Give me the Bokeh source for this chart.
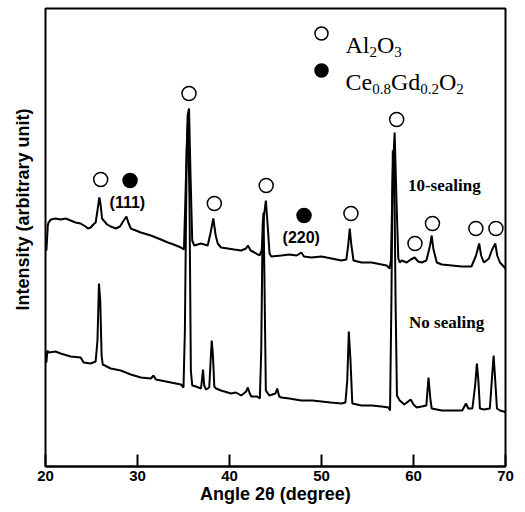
from bokeh.plotting import figure
from bokeh.models import Range1d, Title, FixedTicker
from bokeh.core.properties import value
from bokeh.embed import file_html
from bokeh.resources import INLINE

# ---- data (angle 2theta in degree, intensity in arbitrary units) ----
no_seal_angle = [20.1, 20.2, 20.33, 21.09, 21.64, 22.73, 23.82, 24.14, 24.91, 25.45, 25.65, 25.81, 25.95, 26.1,
                 26.22, 27.09, 28.18, 29.27, 30.36, 31.45, 31.74, 32.0, 32.54, 33.63, 34.72, 35.0, 35.15, 35.35,
                 35.5, 35.65, 35.8, 35.95, 36.36, 36.9, 37.0, 37.12, 37.25, 37.45, 37.8, 37.95, 38.07, 38.2, 38.35,
                 38.54, 39.08, 40.17, 40.7, 41.27, 41.81, 42.0, 42.2, 42.36, 43.0, 43.3, 43.45, 43.6, 43.7, 43.8,
                 43.95, 44.32, 45.0, 45.19, 45.4, 45.63, 46.5, 47.81, 49.0, 50.0, 51.0, 52.17, 52.6, 52.8, 52.97,
                 53.15, 53.35, 54.35, 55.44, 56.53, 57.3, 57.45, 57.6, 57.75, 57.9, 58.05, 58.2, 58.5, 59.0, 59.69,
                 60.0, 60.35, 60.89, 61.4, 61.63, 61.85, 61.98, 63.08, 64.17, 65.3, 65.7, 65.95, 66.4, 66.7, 66.89,
                 67.05, 67.22, 67.65, 68.3, 68.55, 68.71, 68.85, 69.07, 69.4, 69.8, 70.1]
no_seal_int = [104, 116, 114, 115, 113, 110, 109, 104, 103, 105, 126, 183, 166, 111,
               102, 98, 96, 92, 89, 88, 91, 87, 86, 84, 82, 79, 136, 316,
               348, 266, 96, 81, 80, 78, 86, 97, 81, 77, 79, 106, 126, 111, 80,
               78, 76, 73, 74, 71, 75, 79, 73, 70, 70, 68, 116, 241, 254, 186,
               76, 71, 73, 78, 70, 69, 68, 66, 66, 65, 64, 63, 64, 86, 135,
               106, 63, 61, 61, 60, 59, 56, 166, 316, 306, 166, 71, 66, 62, 67,
               62, 59, 60, 61, 89, 66, 58, 56, 56, 56, 63, 58, 58, 81, 103,
               86, 58, 57, 58, 91, 111, 91, 58, 56, 55, 54]

seal_angle = [20.1, 20.25, 20.33, 20.6, 21.09, 21.64, 22.2, 22.73, 23.27, 23.82, 24.36, 24.6, 24.91, 25.2,
              25.45, 25.65, 25.85, 26.0, 26.15, 26.33, 26.7, 27.09, 27.63, 28.1, 28.5, 28.8, 29.0, 29.27,
              30.36, 31.45, 32.54, 33.3, 33.63, 34.2, 34.72, 35.05, 35.2, 35.45, 35.6, 35.75, 35.95, 36.17,
              36.9, 37.63, 37.95, 38.24, 38.5, 38.72, 39.08, 39.81, 40.5, 41.27, 41.8, 42.0, 42.3, 42.72,
              43.26, 43.5, 43.75, 43.95, 44.15, 44.35, 44.54, 45.63, 46.5, 47.3, 47.81, 48.1, 48.9, 50.0,
              51.1, 52.17, 52.7, 52.9, 53.07, 53.25, 53.48, 54.35, 55.44, 56.53, 57.08, 57.4, 57.55, 57.75,
              57.95, 58.15, 58.35, 58.5, 58.71, 59.26, 59.7, 60.13, 60.5, 60.89, 61.4, 61.8, 61.98, 62.15,
              62.53, 63.08, 64.17, 65.26, 66.3, 66.8, 67.14, 67.35, 67.65, 68.2, 68.5, 68.89, 69.1, 69.4,
              69.7, 70.0]
seal_int = [216, 241, 244, 247, 248, 247, 248, 246, 244, 243, 240, 238, 239, 242,
            244, 256, 269, 261, 248, 246, 242, 240, 238, 240, 246, 250, 244, 238,
            234, 231, 227, 224, 223, 221, 219, 217, 266, 351, 358, 296, 226, 221,
            223, 221, 234, 248, 231, 223, 219, 218, 217, 216, 218, 221, 216, 214,
            211, 216, 251, 266, 241, 213, 210, 211, 212, 211, 214, 210, 209, 210,
            208, 206, 207, 221, 238, 221, 206, 204, 204, 202, 201, 198, 206, 296,
            334, 266, 208, 204, 206, 204, 207, 209, 205, 204, 206, 221, 231, 218,
            204, 202, 201, 200, 200, 211, 223, 211, 204, 208, 216, 223, 211, 204,
            201, 198]

al2o3_angle = [26.0, 35.6, 38.35, 43.99, 53.2, 58.17, 60.16, 62.06, 66.78, 68.96]
al2o3_int = [287, 373, 263, 281, 253, 347, 223, 243, 238, 238]
ceo_angle = [29.19, 48.1]
ceo_int = [286, 251]
x_ticks = [20, 30, 40, 50, 60, 70]

p = figure(width=525, height=512, output_backend="svg", toolbar_location=None,
           x_range=Range1d(20, 70), y_range=Range1d(0, 458),
           min_border_left=45, min_border_right=20, min_border_top=8, min_border_bottom=46)
p.background_fill_color = "white"
p.border_fill_color = "white"
p.outline_line_color = "black"
p.outline_line_width = 2
p.xgrid.visible = False
p.ygrid.visible = False
p.yaxis.visible = False

ax = p.xaxis[0]
ax.ticker = FixedTicker(ticks=x_ticks)
ax.major_tick_in = 12
ax.major_tick_out = 0
ax.minor_tick_line_color = None
ax.axis_line_width = 2
ax.major_tick_line_width = 2
ax.major_label_text_font = "Liberation Sans"
ax.major_label_text_font_style = "bold"
ax.major_label_text_font_size = "15px"
ax.major_label_text_color = "black"
ax.major_label_standoff = 4
ax.axis_label = "Angle 2θ (degree)"
ax.axis_label_text_font = "Liberation Sans"
ax.axis_label_text_font_style = "bold"
ax.axis_label_text_font_size = "18px"
ax.axis_label_text_color = "black"
ax.axis_label_standoff = 0

# traces
p.line(no_seal_angle, no_seal_int, line_color="black", line_width=2)
p.line(seal_angle, seal_int, line_color="black", line_width=2)

# phase markers
p.scatter(al2o3_angle, al2o3_int, marker="circle", size=14, fill_color="white",
          line_color="black", line_width=1.5)
p.scatter(ceo_angle, ceo_int, marker="circle", size=14, fill_color="black",
          line_color="black", line_width=1.5)

# legend
p.scatter([50.0], [433], marker="circle", size=13, fill_color="white", line_color="black", line_width=1.5)
p.scatter([50.0], [396], marker="circle", size=13, fill_color="black", line_color="black", line_width=1.5)

serif = value("Liberation Serif")
lx = 52.61
big = [("Al", 0, 422), ("O", 31.5, 422), ("Ce", 0, 385), ("Gd", 45.4, 385), ("O", 93.5, 385)]
sub = [("2", 24, 415), ("3", 48.8, 415), ("0.8", 26.7, 378), ("0.2", 74.7, 378), ("2", 110.8, 378)]
p.text(x=[lx] * len(big), y=[b[2] for b in big], text=[b[0] for b in big], x_offset=[b[1] for b in big],
       text_font=serif, text_font_size="24px", text_baseline="alphabetic", text_align="left", text_color="black")
p.text(x=[lx] * len(sub), y=[s[2] for s in sub], text=[s[0] for s in sub], x_offset=[s[1] for s in sub],
       text_font=serif, text_font_size="15px", text_baseline="alphabetic", text_align="left", text_color="black")

# annotations
p.text(x=[28.9, 47.8], y=[264, 229], text=["(111)", "(220)"], text_font=value("Liberation Sans"),
       text_font_style="bold", text_font_size="16px", text_align="center", text_baseline="middle",
       text_color="black")
p.text(x=[63.35, 63.6], y=[281, 144], text=["10-sealing", "No sealing"], text_font=serif,
       text_font_style="bold", text_font_size="17px", text_align="center", text_baseline="middle",
       text_color="black")

ylab = Title(text="Intensity (arbitrary unit)", align="left", offset=156,
             text_font="Liberation Sans", text_font_style="bold", text_font_size="18px",
             text_color="black", standoff=22, vertical_align="top")
p.add_layout(ylab, "left")

open("out.html", "w").write(file_html(p, INLINE))
